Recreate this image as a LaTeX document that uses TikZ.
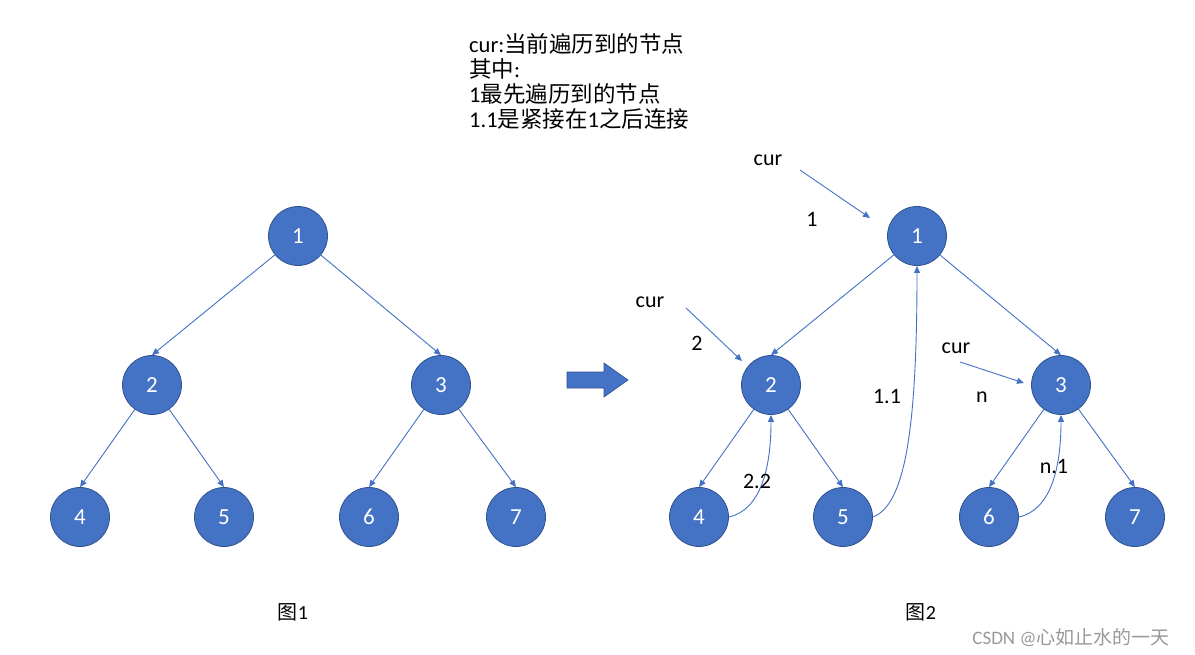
\documentclass[tikz,border=0pt]{standalone}
\usepackage{fontspec}
\setmainfont{Carlito}
\newfontfamily\cjk{Noto Sans CJK SC}
\usetikzlibrary{arrows.meta}
\definecolor{nodeblue}{HTML}{4472C4}
\definecolor{nodeborder}{HTML}{2F528F}
\definecolor{edgeblue}{HTML}{4472C4}
\begin{document}
\begin{tikzpicture}[x=1pt,y=-1pt,
  tn/.style={circle, fill=nodeblue, draw=nodeborder, line width=0.8pt, minimum size=59pt, inner sep=0pt, text=white, font=\fontsize{23}{24}\selectfont},
  edge/.style={draw=edgeblue, line width=0.9pt, -{Triangle[length=7pt,width=6pt]}},
  lbl/.style={font=\fontsize{22}{24}\selectfont, text=black, inner sep=0pt}]
\useasboundingbox (0,0) rectangle (1195,654);
\fill[white] (0,0) rectangle (1195,654);

% top text
\node[lbl, anchor=north west, align=left, font=\fontsize{22.5}{25}\selectfont] (info) at (469,33)
  {cur:{\cjk 当前遍历到的节点}\\{\cjk 其中}:\\1{\cjk 最先遍历到的节点}\\1.1{\cjk 是紧接在}1{\cjk 之后连接}};

% left tree
\node[tn] (a1) at (298,236) {1};
\node[tn] (a2) at (152,385) {2};
\node[tn] (a3) at (441,385) {3};
\node[tn] (a4) at (80,517) {4};
\node[tn] (a5) at (224,517) {5};
\node[tn] (a6) at (369,517) {6};
\node[tn] (a7) at (516,517) {7};
\draw[edge] (a1) -- (a2.north);
\draw[edge] (a1) -- (a3.north);
\draw[edge] (a2) -- (a4.north);
\draw[edge] (a2) -- (a5.north);
\draw[edge] (a3) -- (a6.north);
\draw[edge] (a3) -- (a7.north);

% right tree
\node[tn] (b1) at (917,236) {1};
\node[tn] (b2) at (771,385) {2};
\node[tn] (b3) at (1061,385) {3};
\node[tn] (b4) at (699,517) {4};
\node[tn] (b5) at (843,517) {5};
\node[tn] (b6) at (989,517) {6};
\node[tn] (b7) at (1135,517) {7};
\draw[edge] (b1) -- (b2.north);
\draw[edge] (b1) -- (b3.north);
\draw[edge] (b2) -- (b4.north);
\draw[edge] (b2) -- (b5.north);
\draw[edge] (b3) -- (b6.north);
\draw[edge] (b3) -- (b7.north);

% return curves
\draw[edge] (b5.east) .. controls (905,505) and (917,430) .. (b1.south);
\draw[edge] (b4.east) .. controls (760,510) and (771,470) .. (b2.south);
\draw[edge] (b6.east) .. controls (1050,510) and (1061,470) .. (b3.south);

% cur pointers
\coordinate (c1s) at (800,170);
\coordinate (c1e) at (870,218);
\draw[edge] (c1s) -- (c1e);
\coordinate (c2s) at (686,308);
\coordinate (c2e) at (742,361);
\draw[edge] (c2s) -- (c2e);
\coordinate (c3s) at (960,362);
\coordinate (c3e) at (1024,383);
\draw[edge] (c3s) -- (c3e);

% labels
\node[lbl] (cur1) at (768,160) {cur};
\node[lbl] (l1) at (812,219) {1};
\node[lbl] (cur2) at (650,302) {cur};
\node[lbl] (l2) at (697,343) {2};
\node[lbl] (cur3) at (956,348) {cur};
\node[lbl] (ln) at (982,397) {n};
\node[lbl] (l11) at (887,397) {1.1};
\node[lbl] (l22) at (757,481) {2.2};
\node[lbl] (ln1) at (1054,466) {n.1};

% block arrow
\fill[nodeblue, draw=nodeborder, line width=0.6pt] (567,372) -- (604,372) -- (604,363) -- (628,380) -- (604,397) -- (604,388) -- (567,388) -- cycle;

% figure captions
\node[lbl, font=\fontsize{20}{24}\selectfont] (f1) at (293,612) {{\cjk 图}1};
\node[lbl, font=\fontsize{20}{24}\selectfont] (f2) at (921,612) {{\cjk 图}2};

% watermark
\node[lbl, text=black!40, font=\fontsize{19}{22}\selectfont] (wm) at (1071,638) {CSDN @{\cjk 心如止水的一天}};
\end{tikzpicture}
\end{document}
